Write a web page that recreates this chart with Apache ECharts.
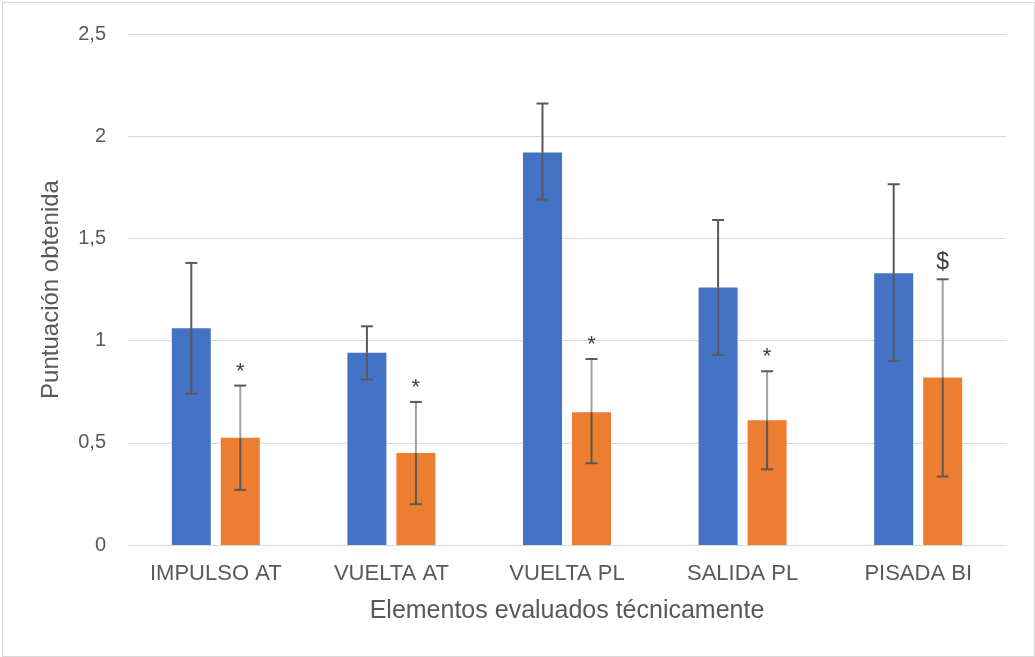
<!DOCTYPE html>
<html>
<head>
<meta charset="utf-8">
<script src="https://cdn.jsdelivr.net/npm/echarts@6/dist/echarts.min.js"></script>
<style>
  html, body { margin: 0; padding: 0; background: #fff; }
  #chart { width: 1031px; height: 653px; margin: 2px; border: 1px solid #d9d9d9; box-sizing: content-box; }
</style>
</head>
<body>
<div id="chart"></div>
<script>
// datos
const categories = ['IMPULSO AT', 'VUELTA AT', 'VUELTA PL', 'SALIDA PL', 'PISADA BI'];
const blueValues = [1.06, 0.94, 1.92, 1.26, 1.33];
const blueErrLow = [0.74, 0.81, 1.69, 0.93, 0.90];
const blueErrHigh = [1.38, 1.07, 2.16, 1.59, 1.765];
const orangeValues = [0.525, 0.45, 0.65, 0.61, 0.82];
const orangeErrLow = [0.27, 0.20, 0.40, 0.37, 0.335];
const orangeErrHigh = [0.78, 0.70, 0.91, 0.85, 1.30];
const orangeMarks = ['*', '*', '*', '*', '$'];

const BAR_W = 39;
const BAR_GAP = 10;
const OFFSET = (BAR_W + BAR_GAP) / 2;

// barras de error (custom)
function errorBars(offset, barVals, marks, upperColor) {
  return function (params, api) {
    const i = api.value(0);
    const lo = api.coord([i, api.value(1)]);
    const hi = api.coord([i, api.value(2)]);
    const top = api.coord([i, barVals[i]]);
    const x = lo[0] + offset;
    const cap = 6;
    const st = { stroke: '#595959', lineWidth: 2 };
    const children = [
      { type: 'line', shape: { x1: x, y1: top[1], x2: x, y2: lo[1] }, style: st },
      { type: 'line', shape: { x1: x, y1: hi[1], x2: x, y2: top[1] },
        style: { stroke: upperColor, lineWidth: 2 } },
      { type: 'line', shape: { x1: x - cap, y1: hi[1], x2: x + cap, y2: hi[1] }, style: st },
      { type: 'line', shape: { x1: x - cap, y1: lo[1], x2: x + cap, y2: lo[1] }, style: st }
    ];
    if (marks) {
      const m = marks[i];
      children.push({
        type: 'text',
        style: {
          text: m, x: x, y: hi[1] - (m === '$' ? 5 : 3),
          align: 'center', verticalAlign: 'bottom',
          fill: '#404040', font: (m === '$' ? '23px' : '22px') + ' "Liberation Sans", Arial, sans-serif'
        }
      });
    }
    return { type: 'group', children: children };
  };
}

const chart = echarts.init(document.getElementById('chart'));
const font = '"Liberation Sans", Arial, sans-serif';

chart.setOption({
  animation: false,
  grid: { left: 125, right: 28, top: 31, bottom: 111 },
  xAxis: {
    type: 'category',
    data: categories,
    axisLine: { show: true, lineStyle: { color: '#d9d9d9', width: 1 } },
    axisTick: { show: false },
    axisLabel: { color: '#595959', fontSize: 22, fontFamily: font, margin: 18 },
    name: 'Elementos evaluados técnicamente',
    nameLocation: 'middle',
    nameGap: 54,
    nameTextStyle: { color: '#595959', fontSize: 25, fontFamily: font }
  },
  yAxis: {
    type: 'value',
    min: 0,
    max: 2.5,
    interval: 0.5,
    axisLine: { show: false },
    axisTick: { show: false },
    splitLine: { lineStyle: { color: '#d9d9d9', width: 1 } },
    axisLabel: {
      color: '#595959', fontSize: 20, fontFamily: font, margin: 22,
      formatter: v => String(v).replace('.', ',')
    },
    name: 'Puntuación obtenida',
    nameLocation: 'middle',
    nameGap: 65,
    nameRotate: 90,
    nameTextStyle: { color: '#595959', fontSize: 24, fontFamily: font }
  },
  series: [
    {
      type: 'bar', data: blueValues, barWidth: BAR_W, barGap: (BAR_GAP / BAR_W * 100) + '%',
      itemStyle: { color: '#4472C4' }
    },
    {
      type: 'bar', data: orangeValues, barWidth: BAR_W,
      itemStyle: { color: '#ED7D31' }
    },
    {
      type: 'custom', z: 10,
      renderItem: errorBars(-OFFSET, blueValues, null, '#595959'),
      encode: { x: 0, y: [1, 2] },
      data: categories.map((c, i) => [i, blueErrLow[i], blueErrHigh[i]])
    },
    {
      type: 'custom', z: 10,
      renderItem: errorBars(OFFSET, orangeValues, orangeMarks, '#a0a0a0'),
      encode: { x: 0, y: [1, 2] },
      data: categories.map((c, i) => [i, orangeErrLow[i], orangeErrHigh[i]])
    }
  ]
});
</script>
</body>
</html>
